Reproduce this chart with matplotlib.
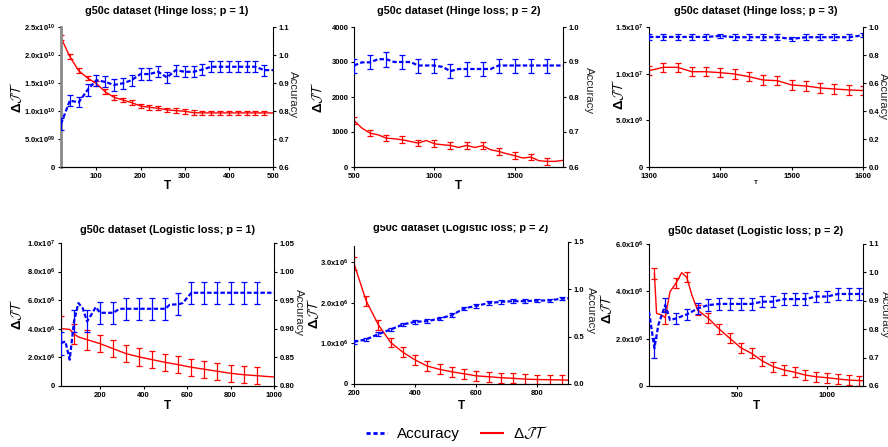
import numpy as np
import matplotlib
matplotlib.use("Agg")
import matplotlib.pyplot as plt
from matplotlib.lines import Line2D
from matplotlib.transforms import Bbox, TransformedBbox

plt.rcParams['font.family'] = ['Liberation Sans', 'DejaVu Sans']
plt.rcParams['mathtext.fontset'] = 'custom'
plt.rcParams['mathtext.rm'] = 'Liberation Sans'
plt.rcParams['mathtext.bf'] = 'Liberation Sans:bold'
plt.rcParams['mathtext.default'] = 'regular'

BLUE = '#0000ff'
RED = '#ff0000'
W, H = 888, 447

# ---- panel 1: hinge loss, p = 1 (dJT in units of 1e10) ----
p1_T = [20, 40, 60, 80, 100, 120, 140, 160, 180, 200, 220, 240, 260, 280, 300,
        320, 340, 360, 380, 400, 420, 440, 460, 480, 500]
p1_acc = [0.754, 0.837, 0.831, 0.875, 0.910, 0.904, 0.893, 0.899, 0.910, 0.932,
          0.932, 0.940, 0.920, 0.946, 0.940, 0.940, 0.948, 0.958, 0.958, 0.958,
          0.958, 0.958, 0.958, 0.946, 0.946]
p1_acc_err = [0.022, 0.020, 0.018, 0.021, 0.020, 0.020, 0.020, 0.020, 0.020, 0.020,
              0.020, 0.020, 0.020, 0.020, 0.020, 0.020, 0.020, 0.020, 0.020, 0.020,
              0.020, 0.020, 0.020, 0.020, 0.0]
p1_dj = [2.31, 1.97, 1.72, 1.59, 1.49, 1.345, 1.244, 1.197, 1.149, 1.09, 1.066, 1.05,
         1.02, 1.007, 0.995, 0.97, 0.966, 0.966, 0.966, 0.966, 0.966, 0.966, 0.966,
         0.966, 0.966]
p1_dj_err = [0.04, 0.04, 0.04, 0.04, 0.04, 0.04, 0.04, 0.04, 0.04, 0.04, 0.04, 0.04,
             0.04, 0.04, 0.04, 0.04, 0.04, 0.04, 0.04, 0.04, 0.04, 0.04, 0.04, 0.04, 0.0]

# ---- panel 2: hinge loss, p = 2 ----
p2_T = [500, 550, 600, 650, 700, 750, 800, 850, 900, 950, 1000, 1050, 1100, 1150,
        1200, 1250, 1300, 1350, 1400, 1450, 1500, 1550, 1600, 1650, 1700, 1750, 1800]
p2_acc = [0.890, 0.899, 0.899, 0.908, 0.908, 0.900, 0.900, 0.900, 0.890, 0.890,
          0.890, 0.886, 0.874, 0.880, 0.880, 0.880, 0.880, 0.880, 0.890, 0.890,
          0.890, 0.890, 0.890, 0.890, 0.890, 0.890, 0.890]
p2_acc_err = [0.02, 0, 0.02, 0, 0.021, 0, 0.02, 0, 0.02, 0, 0.02, 0, 0.02, 0,
              0.02, 0, 0.02, 0, 0.02, 0, 0.02, 0, 0.02, 0, 0.02, 0, 0]
p2_dj = [1327, 1109, 967, 919, 825, 806, 777, 730, 682, 758, 664, 635, 616, 559,
         616, 559, 607, 493, 445, 379, 322, 256, 284, 180, 161, 161, 190]
p2_dj_err = [100, 0, 95, 0, 95, 0, 95, 0, 95, 0, 100, 0, 95, 0, 95, 0, 100, 0,
             95, 0, 95, 0, 95, 0, 100, 0, 0]

# ---- panel 3: hinge loss, p = 3 (dJT in units of 1e7) ----
p3_T = [1300, 1320, 1340, 1360, 1380, 1400, 1420, 1440, 1460, 1480, 1500, 1520,
        1540, 1560, 1580, 1600]
p3_acc = [0.929, 0.929, 0.929, 0.929, 0.929, 0.936, 0.927, 0.927, 0.927, 0.927,
          0.915, 0.927, 0.927, 0.927, 0.927, 0.941]
p3_acc_err = [0.021, 0.021, 0.021, 0.021, 0.021, 0.015, 0.021, 0.021, 0.021, 0.021,
              0.012, 0.021, 0.021, 0.021, 0.021, 0.015]
p3_dj = [1.032, 1.068, 1.068, 1.021, 1.021, 1.011, 0.996, 0.968, 0.932, 0.925,
         0.879, 0.868, 0.847, 0.836, 0.826, 0.819]
p3_dj_err = [0.05, 0.05, 0.05, 0.05, 0.05, 0.05, 0.05, 0.05, 0.05, 0.05, 0.05, 0.05,
             0.05, 0.05, 0.05, 0.05]

# ---- panel 4: logistic loss, p = 1 (dJT in units of 1e6) ----
p4_T_acc = [20, 40, 60, 80, 100, 120, 140, 160, 180, 200, 260, 290, 320, 380, 440,
            500, 520, 560, 580, 620, 680, 740, 800, 860, 920, 1000]
p4_acc = [0.875, 0.878, 0.846, 0.913, 0.945, 0.936, 0.913, 0.925, 0.938, 0.928,
          0.928, 0.935, 0.935, 0.935, 0.935, 0.935, 0.942, 0.943, 0.945, 0.963,
          0.963, 0.963, 0.963, 0.963, 0.963, 0.963]
p4_acc_err = [0.02, 0, 0, 0.019, 0, 0, 0.019, 0, 0, 0.019, 0.019, 0, 0.019, 0.019,
              0.019, 0.019, 0, 0.019, 0, 0.019, 0.019, 0.019, 0.019, 0.019, 0.019, 0]
p4_T_dj = [20, 60, 80, 100, 140, 200, 260, 320, 380, 440, 500, 560, 620, 680, 740,
           800, 860, 920, 1000]
p4_dj = [4.01, 3.96, 3.64, 3.43, 3.24, 2.96, 2.61, 2.26, 2.03, 1.84, 1.65, 1.49,
         1.31, 1.17, 1.03, 0.89, 0.79, 0.72, 0.63]
p4_dj_err = [0.9, 0, 0.7, 0, 0.7, 0.6, 0.6, 0.6, 0.6, 0.6, 0.6, 0.6, 0.6, 0.6, 0.6,
             0.6, 0.6, 0.6, 0]

# ---- panel 5: logistic loss, p = 2 (dJT in units of 1e6) ----
p5_T = [200, 240, 280, 320, 360, 400, 440, 480, 520, 560, 600, 640, 680, 720, 760,
        800, 840, 880, 900]
p5_acc = [0.446, 0.471, 0.527, 0.576, 0.629, 0.657, 0.664, 0.692, 0.727, 0.798,
          0.826, 0.854, 0.868, 0.875, 0.875, 0.882, 0.882, 0.903, 0.905]
p5_acc_err = [0.02, 0.02, 0.02, 0.02, 0.02, 0.02, 0.02, 0.02, 0.02, 0.02, 0.02,
              0.02, 0.02, 0.02, 0.02, 0.02, 0.02, 0.02, 0]
p5_dj = [2.96, 2.04, 1.45, 1.02, 0.78, 0.59, 0.44, 0.36, 0.30, 0.25, 0.20, 0.18,
         0.155, 0.14, 0.12, 0.11, 0.105, 0.10, 0.095]
p5_dj_err = [0.16, 0.13, 0.12, 0.12, 0.12, 0.12, 0.12, 0.12, 0.12, 0.12, 0.12, 0.12,
             0.12, 0.12, 0.12, 0.12, 0.12, 0.12, 0]

# ---- panel 6: logistic loss, p = 2, second run (dJT in units of 1e6) ----
p6_T_acc = [10, 40, 62, 100, 127, 160, 190, 220, 250, 280, 340, 400, 460, 520, 580,
            640, 700, 760, 820, 880, 940, 1000, 1060, 1120, 1180, 1200]
p6_acc = [0.862, 0.733, 0.815, 0.885, 0.832, 0.838, 0.845, 0.852, 0.862, 0.873,
          0.885, 0.889, 0.889, 0.889, 0.889, 0.897, 0.897, 0.906, 0.906, 0.906,
          0.915, 0.915, 0.924, 0.924, 0.924, 0.924]
p6_acc_err = [0, 0.035, 0, 0.026, 0, 0.02, 0, 0.02, 0, 0.02, 0.02, 0.02, 0.02, 0.02,
              0.02, 0.02, 0.02, 0.02, 0.02, 0.02, 0.02, 0.02, 0.02, 0.02, 0.02, 0]
p6_T_dj = [40, 52, 80, 100, 127, 160, 192, 220, 248, 280, 340, 400, 460, 520, 580,
           640, 700, 760, 820, 880, 940, 1000, 1060, 1120, 1180, 1200]
p6_dj = [4.76, 3.07, 3.0, 2.89, 3.99, 4.34, 4.79, 4.59, 3.85, 3.21, 2.86, 2.41,
         2.01, 1.62, 1.38, 1.06, 0.82, 0.68, 0.58, 0.46, 0.39, 0.35, 0.30, 0.25,
         0.23, 0.22]
p6_dj_err = [0.22, 0, 0, 0.26, 0, 0.21, 0, 0.21, 0, 0.21, 0.21, 0.21, 0.21, 0.21,
             0.21, 0.21, 0.21, 0.21, 0.21, 0.21, 0.21, 0.21, 0.21, 0.21, 0.21, 0]

titles = ["g50c dataset (Hinge loss; p = 1)", "g50c dataset (Hinge loss; p = 2)",
          "g50c dataset (Hinge loss; p = 3)", "g50c dataset (Logistic loss; p = 1)",
          "g50c dataset (Logistic loss; p = 2)", "g50c dataset (Logistic loss; p = 2)"]

# tick values / labels
p1_xticks = [100, 200, 300, 400, 500]
p2_xticks = [500, 1000, 1500]
p3_xticks = [1300, 1400, 1500, 1600]
p4_xticks = [200, 400, 600, 800, 1000]
p5_xticks = [200, 400, 600, 800]
p6_xticks = [500, 1000]

p1_ldj = [0, 0.5, 1.0, 1.5, 2.0, 2.5]
p1_ldj_lab = ['0', '5.0x10$^{09}$', '1.0x10$^{10}$', '1.5x10$^{10}$', '2.0x10$^{10}$', '2.5x10$^{10}$']
p2_ldj = [0, 1000, 2000, 3000, 4000]
p2_ldj_lab = ['0', '1000', '2000', '3000', '4000']
p3_ldj = [0, 0.5, 1.0, 1.5]
p3_ldj_lab = ['0', '5.0x10$^{6}$', '1.0x10$^{7}$', '1.5x10$^{7}$']
p4_ldj = [0, 2, 4, 6, 8, 10]
p4_ldj_lab = ['0', '2.0x10$^{6}$', '4.0x10$^{6}$', '6.0x10$^{6}$', '8.0x10$^{6}$', '1.0x10$^{7}$']
p5_ldj = [0, 1, 2, 3]
p5_ldj_lab = ['0', '1.0x10$^{6}$', '2.0x10$^{6}$', '3.0x10$^{6}$']
p6_ldj = [0, 2, 4, 6]
p6_ldj_lab = ['0', '2.0x10$^{6}$', '4.0x10$^{6}$', '6.0x10$^{6}$']

p1_racc = [0.6, 0.7, 0.8, 0.9, 1.0, 1.1]
p1_racc_lab = ['0.6', '0.7', '0.8', '0.9', '1.0', '1.1']
p2_racc = [0.6, 0.7, 0.8, 0.9, 1.0]
p2_racc_lab = ['0.6', '0.7', '0.8', '0.9', '1.0']
p3_racc = [0.0, 0.2, 0.4, 0.6, 0.8, 1.0]
p3_racc_lab = ['0.0', '0.2', '0.4', '0.6', '0.8', '1.0']
p4_racc = [0.80, 0.85, 0.90, 0.95, 1.00, 1.05]
p4_racc_lab = ['0.80', '0.85', '0.90', '0.95', '1.00', '1.05']
p5_racc = [0.0, 0.5, 1.0, 1.5]
p5_racc_lab = ['0.0', '0.5', '1.0', '1.5']
p6_racc = [0.6, 0.7, 0.8, 0.9, 1.0, 1.1]
p6_racc_lab = ['0.6', '0.7', '0.8', '0.9', '1.0', '1.1']

DJ_LABEL = "Δ$\\mathcal{JT}$"

fig = plt.figure(figsize=(W / 100, H / 100), dpi=100)


def draw_panel(box, title, t_acc, acc, acc_err, t_dj, dj, dj_err, xlim, xticks,
               dj_lim, dj_ticks, dj_labels, acc_lim, acc_ticks, acc_labels, pad):
    l, t, r, b = box
    ax = fig.add_axes([l / W, 1 - b / H, (r - l) / W, (b - t) / H])
    axr = ax.twinx()
    ax.errorbar(t_dj, dj, yerr=dj_err, errorevery=np.array(dj_err) > 0, color=RED,
                lw=1.0, elinewidth=0.9, capsize=2.3, capthick=0.9)
    axr.errorbar(t_acc, acc, yerr=acc_err, errorevery=np.array(acc_err) > 0, color=BLUE,
                 lw=1.6, ls=(0, (2, 1)), elinewidth=0.9, capsize=2.3, capthick=0.9)
    ax.set_xlim(xlim)
    ax.set_ylim(dj_lim)
    axr.set_ylim(acc_lim)
    ax.set_xticks(xticks, [str(v) for v in xticks], fontsize=5.5, fontweight='bold')
    ax.set_yticks(dj_ticks, dj_labels, fontsize=5.5, fontweight='bold')
    axr.set_yticks(acc_ticks, acc_labels, fontsize=5.5, fontweight='bold')
    for a in (ax, axr):
        a.spines['top'].set_visible(False)
        a.tick_params(direction='out', length=2.5, width=0.8, pad=1.5)
    ax.spines['right'].set_visible(False)
    axr.spines['left'].set_visible(False)
    title_txt = ax.set_title(title, fontsize=7.8, fontweight='bold', pad=pad)
    return ax, axr, title_txt


panels = [
    ((61, 27, 273, 167), titles[0], p1_T, p1_acc, p1_acc_err, p1_T, p1_dj, p1_dj_err,
     (20, 500), p1_xticks, (0, 2.5), p1_ldj, p1_ldj_lab, (0.6, 1.1), p1_racc, p1_racc_lab, 9.5),
    ((354, 27, 563, 167), titles[1], p2_T, p2_acc, p2_acc_err, p2_T, p2_dj, p2_dj_err,
     (500, 1800), p2_xticks, (0, 4000), p2_ldj, p2_ldj_lab, (0.6, 1.0), p2_racc, p2_racc_lab, 9.5),
    ((649, 27, 863, 167), titles[2], p3_T, p3_acc, p3_acc_err, p3_T, p3_dj, p3_dj_err,
     (1300, 1600), p3_xticks, (0, 1.5), p3_ldj, p3_ldj_lab, (0.0, 1.0), p3_racc, p3_racc_lab, 9.5),
    ((61, 243, 274, 386), titles[3], p4_T_acc, p4_acc, p4_acc_err, p4_T_dj, p4_dj, p4_dj_err,
     (20, 1000), p4_xticks, (0, 10), p4_ldj, p4_ldj_lab, (0.80, 1.05), p4_racc, p4_racc_lab, 7.2),
    ((354, 242, 568, 384), titles[4], p5_T, p5_acc, p5_acc_err, p5_T, p5_dj, p5_dj_err,
     (200, 900), p5_xticks, (0, 3.49), p5_ldj, p5_ldj_lab, (0.0, 1.5), p5_racc, p5_racc_lab, 8.0),
    ((649, 244, 863, 386), titles[5], p6_T_acc, p6_acc, p6_acc_err, p6_T_dj, p6_dj, p6_dj_err,
     (10, 1200), p6_xticks, (0, 6), p6_ldj, p6_ldj_lab, (0.6, 1.1), p6_racc, p6_racc_lab, 7.5),
]

axes = [draw_panel(*p) for p in panels]

# first panel: thick grey left axis
axes[0][0].spines['left'].set_color('#8a8a8a')
axes[0][0].spines['left'].set_linewidth(2)
# fifth panel: left axis stops at 3.4e6
axes[4][0].spines['left'].set_bounds(0, 3.4)
# fifth title is cropped at the panel edge
clip = TransformedBbox(Bbox([[0, 0], [1, 1 - 225 / H]]), fig.transFigure)
axes[4][2].set_clip_box(clip)
axes[4][2].set_clip_on(True)

# axis labels (pixel positions of label centres)
dj_label_pos = [(16, 97), (317, 97), (618, 94), (16, 314), (313, 313), (606, 308)]
acc_label_pos = [(293, 95), (589, 91), (883, 97), (299, 313), (591, 311), (885, 315)]
t_label_pos = [(167, 186), (458, 186), (756, 183), (167, 406), (461, 406), (756, 406)]
t_label_size = [8.5, 8.5, 4.5, 8.5, 8.5, 8.5]

for (x, y) in dj_label_pos:
    fig.text(x / W, 1 - y / H, DJ_LABEL, rotation=90, ha='center', va='center',
             fontsize=9.5, fontweight='bold', math_fontfamily='cm')
for (x, y) in acc_label_pos:
    fig.text(x / W, 1 - y / H, "Accuracy", rotation=270, ha='center', va='center',
             fontsize=8.2, color='#222222')
for (x, y), s in zip(t_label_pos, t_label_size):
    fig.text(x / W, 1 - y / H, "T", ha='center', va='center', fontsize=s, fontweight='bold')

handles = [Line2D([], [], color=BLUE, lw=2, ls=(0, (1.5, 1))),
           Line2D([], [], color=RED, lw=1.5)]
fig.legend(handles, ["Accuracy", "$\\Delta\\mathcal{JT}$"], loc='center',
           bbox_to_anchor=(457 / W, 1 - 433 / H), ncol=2, frameon=False,
           prop={'size': 11, 'math_fontfamily': 'cm'}, handlelength=1.4,
           handletextpad=0.65, columnspacing=1.4)

fig.savefig("out.png", dpi=100)
